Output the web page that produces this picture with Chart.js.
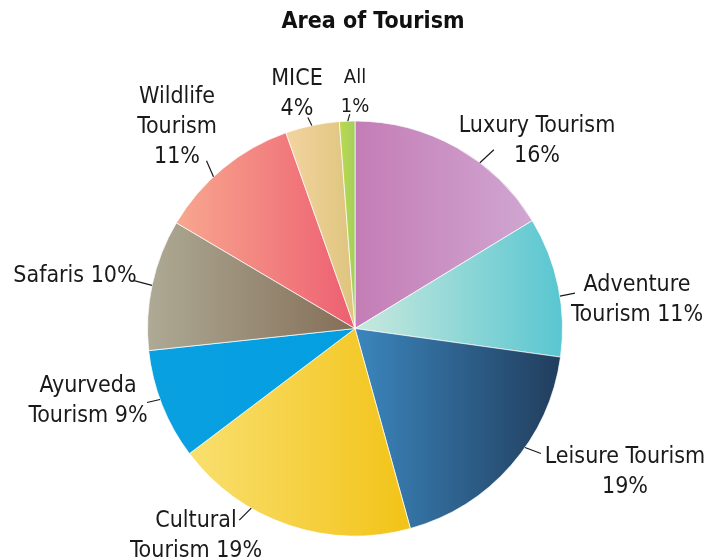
<!DOCTYPE html>
<html>
<head>
<meta charset="utf-8">
<script src="https://cdn.jsdelivr.net/npm/chart.js@4.4.1/dist/chart.umd.min.js"></script>
<style>
  html, body { margin: 0; padding: 0; background: #fff; }
  #wrap { position: relative; width: 708px; height: 560px; }
</style>
</head>
<body>
<div id="wrap"><canvas id="pie" width="708" height="560"></canvas></div>
<script>
"use strict";

// ── Data ──────────────────────────────────────────────────────────────
const chartTitle = 'Area of Tourism';
const categories = ['Luxury Tourism', 'Adventure Tourism', 'Leisure Tourism', 'Cultural Tourism',
                    'Ayurveda Tourism', 'Safaris', 'Wildlife Tourism', 'MICE', 'All'];
// slice sizes as drawn (labels show the rounded figures)
const shares     = [16.3, 10.9, 18.5, 19.0, 8.6, 10.2, 11.1, 4.2, 1.2];
const labelLines = [
  ['Luxury Tourism', '16%'],
  ['Adventure', 'Tourism 11%'],
  ['Leisure Tourism', '19%'],
  ['Cultural', 'Tourism 19%'],
  ['Ayurveda', 'Tourism 9%'],
  ['Safaris 10%'],
  ['Wildlife', 'Tourism', '11%'],
  ['MICE', '4%'],
  ['All', '1%'],
];

// gradient stops per slice, left → right
const gradLeft  = ['#c47db6', '#c9e9dd', '#3b86be', '#f9df70', '#0aa0e0', '#aeaa95', '#f8a78f', '#f3d4a0', '#bcd94c'];
const gradRight = ['#d0a6d1', '#58c6d1', '#213d5c', '#f2c317', '#039fe2', '#846e57', '#ed5f71', '#ddc47d', '#a3cf60'];

// label layout: text centre x, first baseline y, leader angle on rim (deg from top), leader offset
const labelPos = [
  { x: 537, y: 132, a: 37,  dx: 14,  dy: -13 },
  { x: 637, y: 291, a: 81,  dx: 15,  dy: -3 },
  { x: 625, y: 463, a: 125, dx: 16,  dy: 6 },
  { x: 196, y: 527, a: 210, dx: -12, dy: 12 },
  { x: 88,  y: 392, a: 250, dx: -13, dy: 3 },
  { x: 75,  y: 282, a: 282, dx: -19, dy: -5 },
  { x: 177, y: 103, a: 317, dx: -7,  dy: -16 },
  { x: 297, y: 85,  a: 348, dx: -4,  dy: -8 },
  { x: 355, y: 83,  a: 358, dx: 2,   dy: -7 },
];

const FONT = '"DejaVu Sans Condensed", "DejaVu Sans", sans-serif';
const total = shares.reduce((s, v) => s + v, 0);

// ── Gradient per slice, spanning the slice's horizontal extent ────────
function sliceGradient(c) {
  const chart = c.chart;
  const area = chart.chartArea;
  const i = c.dataIndex;
  if (!area) return gradLeft[i];
  const cx = (area.left + area.right) / 2;
  const r = Math.min(area.right - area.left, area.bottom - area.top) / 2;
  let acc = 0;
  for (let k = 0; k < i; k++) acc += shares[k];
  const a0 = -Math.PI / 2 + acc / total * 2 * Math.PI;
  const a1 = a0 + shares[i] / total * 2 * Math.PI;
  let minX = cx, maxX = cx;
  for (let s = 0; s <= 40; s++) {
    const x = cx + r * Math.cos(a0 + (a1 - a0) * s / 40);
    minX = Math.min(minX, x); maxX = Math.max(maxX, x);
  }
  const g = chart.ctx.createLinearGradient(minX, 0, maxX, 0);
  g.addColorStop(0, gradLeft[i]);
  g.addColorStop(1, gradRight[i]);
  return g;
}

// ── Title, labels + leader lines ──────────────────────────────────────
const labelPlugin = {
  id: 'pieLabels',
  afterDraw(chart) {
    const { ctx } = chart;
    const arc = chart.getDatasetMeta(0).data[0];
    const cx = arc.x, cy = arc.y, r = arc.outerRadius;
    ctx.save();
    ctx.fillStyle = '#111';
    ctx.textAlign = 'center';
    ctx.textBaseline = 'alphabetic';
    ctx.font = 'bold 23px ' + FONT;
    ctx.fillText(chartTitle, 373, 28);

    ctx.strokeStyle = '#1a1a1a';
    ctx.lineWidth = 1.2;
    ctx.fillStyle = '#1a1a1a';
    labelLines.forEach((lines, i) => {
      const p = labelPos[i];
      const a = p.a * Math.PI / 180;
      const x0 = cx + r * Math.sin(a);
      const y0 = cy - r * Math.cos(a);
      ctx.beginPath();
      ctx.moveTo(x0, y0);
      ctx.lineTo(x0 + p.dx, y0 + p.dy);
      ctx.stroke();
      const small = categories[i] === 'All';
      ctx.font = (small ? '20px ' : '23px ') + FONT;
      lines.forEach((t, j) => ctx.fillText(t, p.x, p.y + j * (small ? 29 : 30)));
    });
    ctx.restore();
  }
};

new Chart(document.getElementById('pie'), {
  type: 'pie',
  data: {
    labels: categories,
    datasets: [{
      data: shares,
      backgroundColor: sliceGradient,
      borderColor: 'rgba(255,255,255,0.7)',
      borderWidth: 1,
    }]
  },
  options: {
    responsive: false,
    animation: false,
    layout: { padding: { left: 147, right: 145, top: 120, bottom: 23 } },
    plugins: {
      legend: { display: false },
      tooltip: { enabled: false },
      title: { display: false },
    }
  },
  plugins: [labelPlugin]
});
</script>
</body>
</html>
